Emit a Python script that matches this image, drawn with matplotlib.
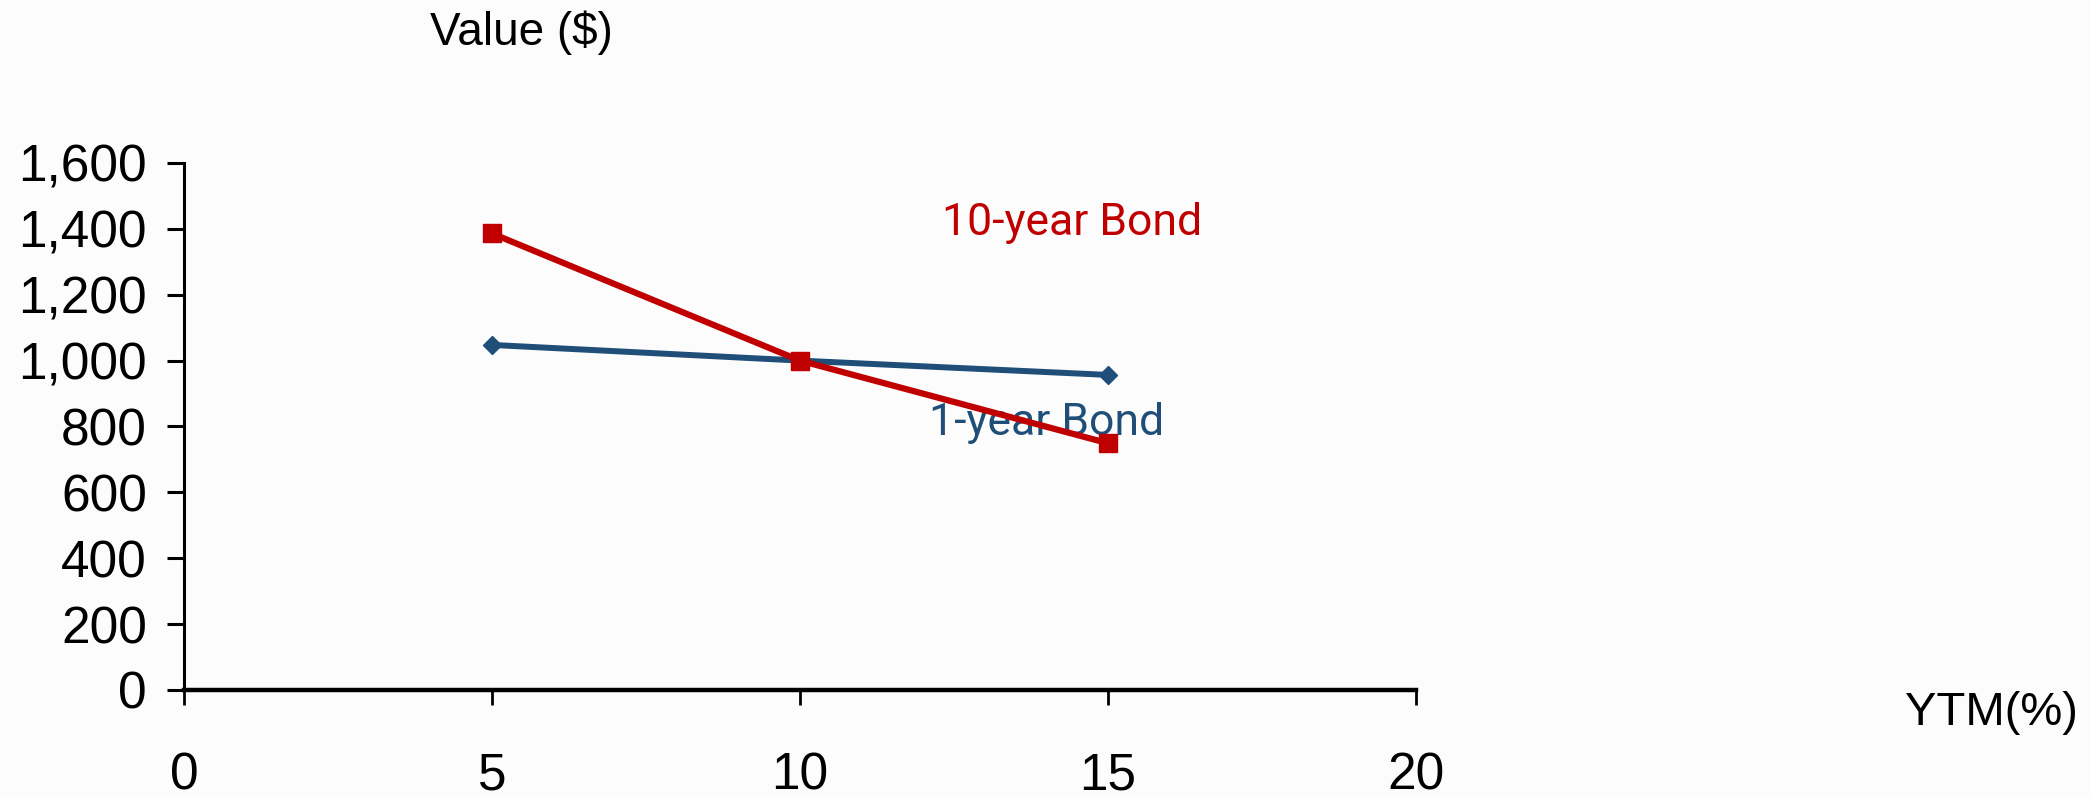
import matplotlib
matplotlib.use("Agg")
import matplotlib.pyplot as plt
from matplotlib.ticker import FuncFormatter

# Data: bond value vs yield to maturity
ytm = [5, 10, 15]
one_year_bond = [1047.62, 1000.0, 956.52]
ten_year_bond = [1386.09, 1000.0, 749.06]

x_ticks = [0, 5, 10, 15, 20]
y_ticks = [0, 200, 400, 600, 800, 1000, 1200, 1400, 1600]

blue = "#1F4E79"
red = "#C00000"
bg = "#FCFCFC"

plt.rcParams["font.family"] = ["Liberation Sans", "DejaVu Sans"]

fig = plt.figure(figsize=(20.9, 7.97), dpi=100, facecolor=bg)
ax = fig.add_axes([0.088, 0.1343, 0.5895, 0.6612], facecolor=bg)

ax.plot(ytm, one_year_bond, color=blue, linewidth=4.3, marker="D",
        markersize=9, zorder=3)
ax.plot(ytm, ten_year_bond, color=red, linewidth=4.5, marker="s",
        markersize=13, zorder=4)

ax.set_xlim(0, 20)
ax.set_ylim(0, 1600)
ax.set_xticks(x_ticks)
ax.set_yticks(y_ticks)
ax.yaxis.set_major_formatter(FuncFormatter(lambda v, p: f"{int(v):,}"))

for side in ["top", "right"]:
    ax.spines[side].set_visible(False)
ax.spines["left"].set_linewidth(2.2)
ax.spines["bottom"].set_linewidth(3.2)

ax.tick_params(axis="x", length=11, width=2, pad=33, labelsize=37)
ax.tick_params(axis="y", length=12, width=2.2, pad=14.5, labelsize=37)

label_font = ["Roboto", "DejaVu Sans"]
ax.text(14.41, 1381, "10-year Bond", color=red, fontsize=32,
        family=label_font, ha="center", va="baseline")
ax.text(14.0, 774, "1-year Bond", color=blue, fontsize=32,
        family=label_font, ha="center", va="baseline")

fig.text(0.2494, 0.9435, "Value ($)", fontsize=33, ha="center", va="baseline")
fig.text(0.953, 0.0903, "YTM(%)", fontsize=34, ha="center", va="baseline")

fig.savefig("out.png", dpi=100, facecolor=bg)
